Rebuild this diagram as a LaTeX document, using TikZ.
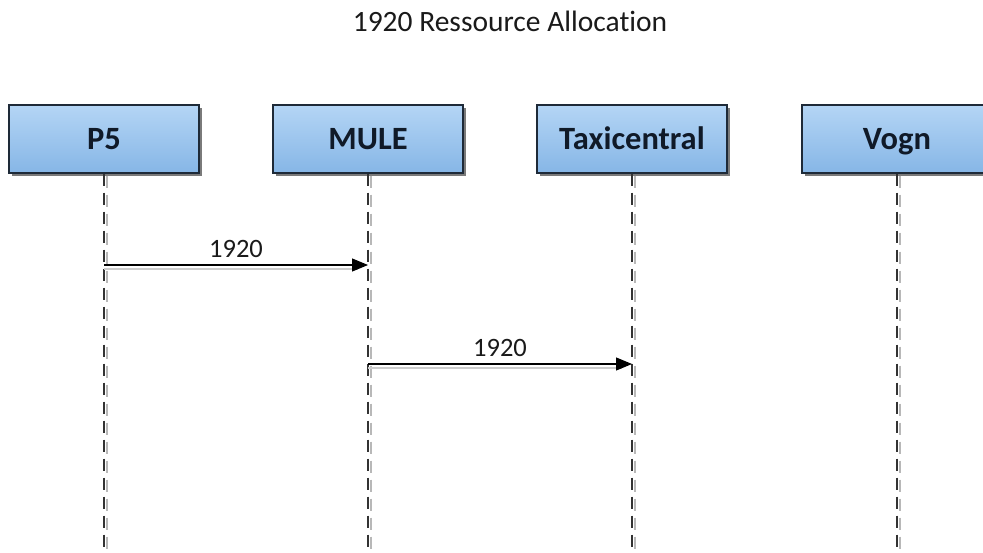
\documentclass[tikz,border=0pt]{standalone}
\usepackage{fontspec}
\setmainfont[Ligatures=CommonOff]{Carlito}
\usetikzlibrary{arrows.meta,shadows}

\definecolor{boxtop}{HTML}{B4D5F5}
\definecolor{boxbot}{HTML}{86B6E6}
\definecolor{boxline}{HTML}{1E2A38}
\definecolor{inktext}{HTML}{1A1A1A}
\definecolor{headtext}{HTML}{101A28}
\definecolor{shade}{HTML}{B8B8B8}

\tikzset{
  lifebox/.style={
    draw=boxline, line width=1.2pt,
    top color=boxtop, bottom color=boxbot,
    minimum width=190pt, minimum height=68pt,
    inner sep=0pt, text=headtext,
    text height=22pt, text depth=0pt,
    font=\fontsize{32.5}{38}\selectfont\bfseries,
    drop shadow={shadow xshift=3pt, shadow yshift=-3pt, fill=black!65, opacity=0.8}
  },
  lifeline/.style={draw=black!80, line width=1.1pt, dash pattern=on 12pt off 7pt},
  lifeshade/.style={draw=shade, line width=1.1pt, dash pattern=on 12pt off 7pt},
  msg/.style={draw=black, line width=1.1pt, -{Triangle[length=16pt,width=13pt]}},
  msgshade/.style={draw=shade!70, line width=2pt},
  msglabel/.style={text=inktext, font=\fontsize{26.5}{30}\selectfont, anchor=base, yshift=7pt},
  heading/.style={text=inktext, font=\fontsize{29.5}{34}\selectfont, anchor=base}
}

\begin{document}
\begin{tikzpicture}[x=1pt, y=-1pt]
  \useasboundingbox (0,0) rectangle (983,553);
  \clip (0,0) rectangle (983,553);
  \fill[white] (0,0) rectangle (983,553);

  % title
  \node[heading] (title) at (510,32) {1920 Ressource Allocation};

  % participants
  \node[lifebox] (p5)   at (104,139) {P5};
  \node[lifebox] (mule) at (368,139) {MULE};
  \node[lifebox] (taxi) at (632,139) {Taxicentral};
  \node[lifebox] (vogn) at (897,139) {Vogn};

  % lifeline ends at the bottom edge
  \coordinate (p5end)   at (104,560);
  \coordinate (muleend) at (368,560);
  \coordinate (taxiend) at (632,560);
  \coordinate (vognend) at (897,560);

  % lifelines with a light offset shadow
  \foreach \n in {p5,mule,taxi,vogn}{
    \draw[lifeshade] ([xshift=3pt,yshift=-2pt]\n.south) -- ([xshift=3pt]\n end);
    \draw[lifeline] (\n.south) -- (\n end);
  }

  % message anchor points on the lifelines
  \coordinate (p5m1)   at (104,265);
  \coordinate (mulem1) at (368,265);
  \coordinate (mulem2) at (368,364);
  \coordinate (taxim2) at (632,364);

  % messages
  \draw[msgshade] ([yshift=-4pt]p5m1) -- ([xshift=-10pt,yshift=-4pt]mulem1);
  \draw[msg] (p5m1) -- (mulem1) node[msglabel, midway] (m1) {1920};

  \draw[msgshade] ([yshift=-4pt]mulem2) -- ([xshift=-10pt,yshift=-4pt]taxim2);
  \draw[msg] (mulem2) -- (taxim2) node[msglabel, midway] (m2) {1920};
\end{tikzpicture}
\end{document}
